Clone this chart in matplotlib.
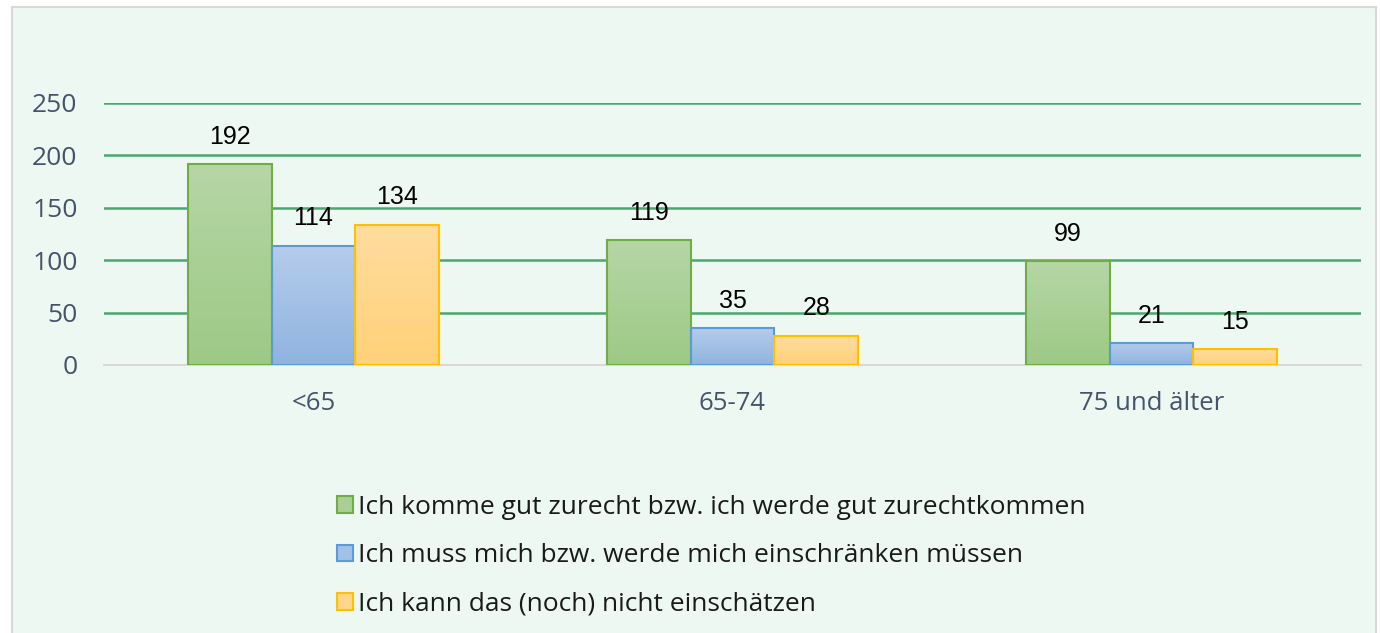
import matplotlib
matplotlib.use("Agg")
import matplotlib.pyplot as plt
import numpy as np
from matplotlib.patches import Patch, Rectangle
from matplotlib.colors import LinearSegmentedColormap

categories = ["<65", "65-74", "75 und älter"]
series_names = [
    "Ich komme gut zurecht bzw. ich werde gut zurechtkommen",
    "Ich muss mich bzw. werde mich einschränken müssen",
    "Ich kann das (noch) nicht einschätzen",
]
gut = [192, 119, 99]
einschraenken = [114, 35, 21]
unklar = [134, 28, 15]
series_values = [gut, einschraenken, unklar]

edge_colors = ["#70AD47", "#5B9BD5", "#FFC000"]
grad_top = ["#B6D6A6", "#B5CCEB", "#FFDC9E"]
grad_bot = ["#9DC985", "#8FB4E0", "#FFD179"]
legend_fill = ["#A9CF95", "#A3C0E6", "#FFD68C"]

bg = "#EEF8F2"
fig = plt.figure(figsize=(13.8, 6.33), dpi=100)
fig.patch.set_facecolor("white")
fig.patches.append(Rectangle((12 / 1380, -0.1), (1376 - 12) / 1380, (633 - 7) / 633 + 0.1,
                             transform=fig.transFigure, facecolor=bg,
                             edgecolor="#D9D9D9", linewidth=1.5, zorder=-5))

ax = fig.add_axes([104 / 1380, 268 / 633, (1361 - 104) / 1380, (530 - 268) / 633])
ax.set_zorder(2)
ax.set_facecolor("none")
x = np.arange(len(categories))
w = 0.2
for i, (vals, ec) in enumerate(zip(series_values, edge_colors)):
    bars = ax.bar(x + (i - 1) * w, vals, width=w, facecolor="none",
                  edgecolor=ec, linewidth=1.5, zorder=4)
    cmap = LinearSegmentedColormap.from_list("g%d" % i, [grad_bot[i], grad_top[i]])
    grad = np.linspace(0, 1, 100).reshape(-1, 1)
    for b, v in zip(bars, vals):
        x0 = b.get_x()
        ax.imshow(grad, extent=[x0, x0 + b.get_width(), 0, b.get_height()],
                  origin="lower", aspect="auto", cmap=cmap, zorder=3)
        ax.annotate(str(v), (x0 + b.get_width() / 2, v), xytext=(0, 11),
                    textcoords="offset points", ha="center", va="bottom",
                    fontsize=18, family="Liberation Sans", color="black")

ax.set_xlim(-0.5, 2.5)
ax.set_ylim(0, 250)
ax.set_yticks([0, 50, 100, 150, 200, 250])
ax.yaxis.grid(True, color="#4CA66F", linewidth=1.8, zorder=1)
ax.set_axisbelow(True)
for s in ["top", "right", "left"]:
    ax.spines[s].set_visible(False)
ax.spines["bottom"].set_color("#D9D9D9")
ax.spines["bottom"].set_linewidth(1.5)
ax.spines["bottom"].set_zorder(2)
ax.set_xticks(x)
ax.set_xticklabels(categories, fontsize=18.5, family="Open Sans", color="#44546A")
ax.tick_params(axis="x", length=0, pad=19)
ax.tick_params(axis="y", length=0, pad=19, labelsize=19, labelcolor="#44546A")
for t in ax.get_yticklabels():
    t.set_family("Open Sans")

handles = [Patch(facecolor=fc, edgecolor=ec, linewidth=1.5)
           for fc, ec in zip(legend_fill, edge_colors)]
leg = fig.legend(handles, series_names, loc="upper left",
                 bbox_to_anchor=(313 / 1380, 1 - 471 / 633), frameon=False,
                 prop={"family": "Open Sans", "size": 19},
                 handlelength=0.6, handleheight=0.6, handletextpad=0.2,
                 labelspacing=0.89, labelcolor="#1A1A1A")

fig.savefig("out.png", dpi=100, facecolor=fig.get_facecolor())
